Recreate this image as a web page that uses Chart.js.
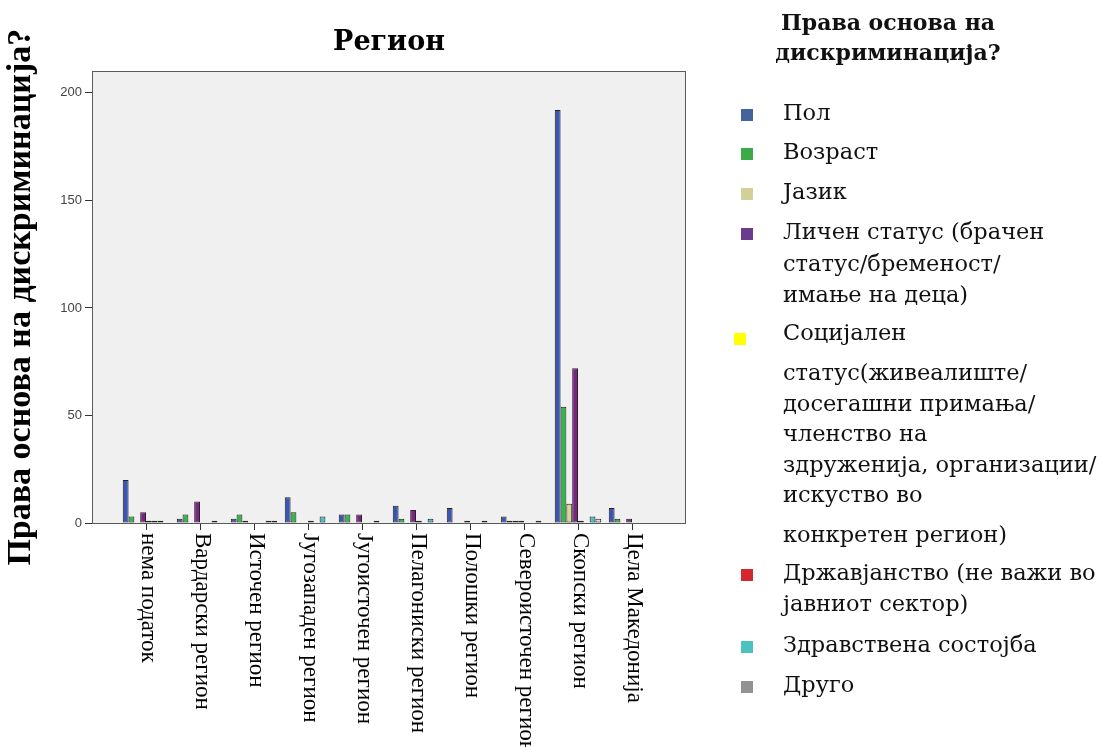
<!DOCTYPE html>
<html>
<head>
<meta charset="utf-8">
<script src="https://cdn.jsdelivr.net/npm/chart.js@4/dist/chart.umd.min.js"></script>
<style>
  body { margin: 0; background: #fff; width: 1110px; height: 747px; overflow: hidden; position: relative; }
  #chart { position: absolute; left: 0; top: 0; }
  .lh { position: absolute; left: 680px; width: 416px; text-align: center; font: bold 22px "DejaVu Serif", serif; line-height: 30px; color: #111; }
  .li { position: absolute; left: 783px; font: 22.5px "DejaVu Serif", serif; line-height: 31px; color: #111; white-space: nowrap; }
  .mk { position: absolute; left: 741px; width: 12px; height: 12px; }
</style>
</head>
<body>
<canvas id="chart" width="1110" height="747"></canvas>

<div class="lh" style="top:7px">Права основа на<br>дискриминација?</div>
<span class="mk" style="top:109px;background:#43649c"></span><div class="li" style="top:97px">Пол</div>
<span class="mk" style="top:148px;background:#3bab4a"></span><div class="li" style="top:136px">Возраст</div>
<span class="mk" style="top:188px;background:#d3cf98"></span><div class="li" style="top:176px">Јазик</div>
<span class="mk" style="top:228px;background:#6b3b8c"></span><div class="li" style="top:216px;line-height:31.5px">Личен статус (брачен<br>статус/бременост/<br>имање на деца)</div>
<span class="mk" style="top:333px;left:734px;background:#ffff00"></span><div class="li" style="top:317px">Социјален</div>
<div class="li" style="top:357px;line-height:30.5px">статус(живеалиште/<br>досегашни примања/<br>членство на<br>здруженија, организации/<br>искуство во</div>
<div class="li" style="top:519px">конкретен регион)</div>
<span class="mk" style="top:569px;background:#d3262e"></span><div class="li" style="top:557px">Државјанство (не важи во<br>јавниот сектор)</div>
<span class="mk" style="top:641px;background:#4cc2c0"></span><div class="li" style="top:629px">Здравствена состојба</div>
<span class="mk" style="top:681px;background:#939395"></span><div class="li" style="top:669px">Друго</div>

<script>
const regions = ['нема податок', 'Вардарски регион', 'Источен регион', 'Југозападен регион',
  'Југоисточен регион', 'Пелагониски регион', 'Полошки регион', 'Североисточен регион',
  'Скопски регион', 'Цела Македонија'];

const seriesNames = ['Пол', 'Возраст', 'Јазик', 'Личен статус (брачен статус/бременост/имање на деца)',
  'Социјален статус(живеалиште/досегашни примања/членство на здруженија, организации/искуство во конкретен регион)',
  'Државјанство (не важи во јавниот сектор)', 'Здравствена состојба', 'Друго'];

const pol          = [20, 2, 2, 12, 4, 8, 7, 3, 192, 7];
const vozrast      = [3, 4, 4, 5, 4, 2, 0, 1, 54, 2];
const jazik        = [0, 0, 1, 0, 0, 0, 0, 1, 9, 0];
const licenStatus  = [5, 10, 0, 0, 4, 6, 1, 1, 72, 2];
const socijalen    = [1, 0, 0, 1, 0, 1, 0, 0, 1, 0];
const drzavjanstvo = [1, 0, 0, 0, 0, 0, 0, 0, 0, 0];
const zdravstvena  = [1, 1, 1, 3, 1, 2, 1, 1, 3, 0];
const drugo        = [0, 0, 1, 0, 0, 0, 0, 0, 2, 0];

const yTicks = [0, 50, 100, 150, 200];

const seriesValues = [pol, vozrast, jazik, licenStatus, socijalen, drzavjanstvo, zdravstvena, drugo];
const barColors = ['#3b55b2', '#33b54a', '#dad497', '#7a2382', '#f2f200', '#d1282f', '#42c2c6', '#dcdcdc'];

// grey plot area with a frame, like the SPSS output
const plotFrame = {
  id: 'plotFrame',
  beforeDraw(chart) {
    const { ctx, chartArea: a } = chart;
    ctx.save();
    ctx.fillStyle = '#f0f0f0';
    ctx.fillRect(a.left, a.top, a.width, a.height);
    ctx.restore();
  },
  afterDatasetsDraw(chart) {
    const { ctx, chartArea: a } = chart;
    ctx.save();
    ctx.strokeStyle = '#5a5a5a';
    ctx.lineWidth = 1;
    ctx.strokeRect(Math.round(a.left) + 0.5, Math.round(a.top) + 0.5,
      Math.round(a.width) - 1, Math.round(a.height));
    ctx.restore();
  }
};

// category names read top to bottom under each tick
const xLabels = {
  id: 'xLabels',
  afterDraw(chart) {
    const s = chart.scales.x, ctx = chart.ctx;
    ctx.save();
    ctx.font = '23px "Liberation Serif"';
    ctx.fillStyle = '#000';
    ctx.textAlign = 'left';
    ctx.textBaseline = 'alphabetic';
    regions.forEach((r, i) => {
      ctx.save();
      ctx.translate(s.getPixelForValue(i) - 4, s.top + 10);
      ctx.rotate(Math.PI / 2);
      ctx.fillText(r, 0, 0);
      ctx.restore();
    });
    ctx.restore();
  }
};

new Chart(document.getElementById('chart'), {
  type: 'bar',
  data: {
    datasets: seriesValues.map((vals, k) => ({
      label: seriesNames[k],
      data: vals.map((v, i) => ({ x: i, y: v })),
      backgroundColor: barColors[k],
      borderColor: '#222',
      borderWidth: 1,
      borderSkipped: false
    }))
  },
  options: {
    responsive: false,
    animation: false,
    layout: { padding: { left: 0, right: 424, top: 0, bottom: 0 } },
    datasets: { bar: { categoryPercentage: 0.86, barPercentage: 1 } },
    plugins: {
      legend: { display: false },
      tooltip: { enabled: false },
      title: {
        display: true,
        text: 'Регион',
        fullSize: false,
        color: '#000',
        font: { family: '"DejaVu Serif"', size: 27, weight: 'bold' },
        padding: { top: 27, bottom: 12 }
      }
    },
    scales: {
      x: {
        type: 'linear',
        min: -1,
        max: regions.length,
        offset: false,
        ticks: { display: false, stepSize: 1 },
        grid: { drawOnChartArea: false, tickLength: 7, color: '#333', offset: false },
        border: { display: false },
        afterBuildTicks(s) {
          s.ticks = regions.map((r, i) => ({ value: i }));
        },
        afterFit(s) { s.height = 224; }
      },
      y: {
        min: 0,
        max: 210,
        ticks: { stepSize: 50, color: '#444', padding: 3, font: { family: 'Arial', size: 13 } },
        grid: { drawOnChartArea: false, tickLength: 7, color: '#333' },
        border: { display: false },
        title: {
          display: true,
          text: 'Права основа на дискриминација?',
          color: '#000',
          font: { family: '"Liberation Serif"', size: 34, weight: 'bold' },
          padding: { top: 1, bottom: 0 }
        },
        afterBuildTicks(s) {
          s.ticks = yTicks.map(v => ({ value: v }));
        },
        afterFit(s) { s.width = 92; }
      }
    }
  },
  plugins: [plotFrame, xLabels]
});
</script>
</body>
</html>
